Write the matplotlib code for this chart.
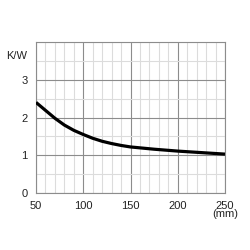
import numpy as np
import matplotlib.pyplot as plt
from matplotlib.ticker import MultipleLocator

# thermal resistance vs length
length_mm = [50, 60, 70, 80, 90, 100, 110, 120, 130, 140, 150, 175, 200, 225, 250]
resistance = [2.40, 2.19, 1.98, 1.80, 1.66, 1.55, 1.45, 1.37, 1.31, 1.26, 1.22, 1.16, 1.11, 1.07, 1.03]
x_ticks = [50, 100, 150, 200, 250]
x_labels = ['50', '100', '150', '200', '250\n(mm)']
y_ticks = [0, 1, 2, 3]

plt.rcParams['font.family'] = ['Liberation Sans', 'DejaVu Sans']

fig = plt.figure(figsize=(2.5, 2.5), dpi=100)
ax = fig.add_axes([0.144, 0.228, 0.756, 0.604])

ax.plot(length_mm, resistance, color='black', lw=2.3, solid_joinstyle='round',
        solid_capstyle='butt', zorder=3)

ax.set_xlim(50, 250)
ax.set_ylim(0, 4)
ax.set_xticks(x_ticks)
ax.set_xticklabels(x_labels, linespacing=0.75)
ax.set_yticks(y_ticks)
ax.xaxis.set_minor_locator(MultipleLocator(10))
ax.yaxis.set_minor_locator(MultipleLocator(0.5))

ax.grid(which='minor', color='#dcdcdc', lw=0.8)
ax.grid(which='major', color='#8c8c8c', lw=0.8)
ax.set_axisbelow(True)
ax.tick_params(which='both', length=0, labelsize=8, colors='#222222')
ax.tick_params(axis='x', pad=6)
ax.tick_params(axis='y', pad=6)
for s in ax.spines.values():
    s.set_color('#8c8c8c')
    s.set_linewidth(0.8)

ax.text(-0.045, 0.91, 'K/W', transform=ax.transAxes, ha='right', va='center',
        fontsize=8, color='#222222')

fig.savefig('out.png', dpi=100)
